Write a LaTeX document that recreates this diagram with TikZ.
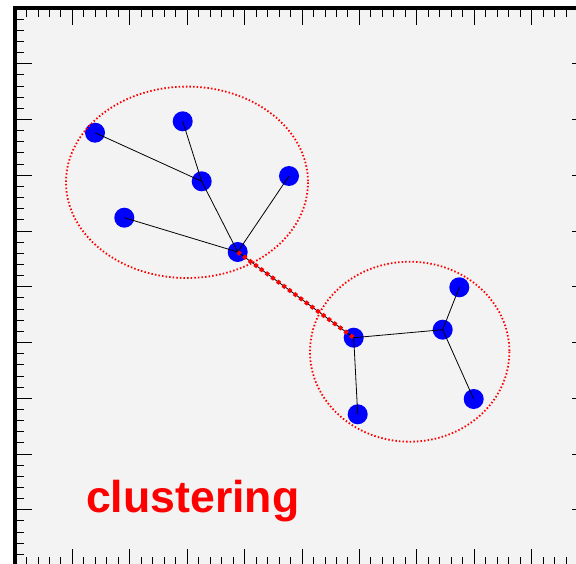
\documentclass[tikz,border=0pt]{standalone}
\usepackage{fontspec}
\usepackage{tikz}
\usetikzlibrary{positioning}
\newfontfamily\labelfont{Liberation Sans}
\definecolor{padgray}{HTML}{F3F3F3}
\definecolor{rootred}{HTML}{FF0000}
\definecolor{rootblue}{HTML}{0000FF}

\begin{document}
\begin{tikzpicture}[
  x=1pt,y=-1pt,
  vtx/.style={circle,fill=rootblue,minimum size=20pt,inner sep=0pt},
  edge/.style={black,line width=0.8pt},
  clus/.style={rootred,line width=1.8pt,dash pattern=on 1.5pt off 2.1pt},
  link/.style={rootred,line width=4pt,dash pattern=on 3.6pt off 3.4pt},
  tick/.style={black,line width=0.9pt}
]
\useasboundingbox (0,0) rectangle (576,564);
\clip (0,0) rectangle (576,564);
\fill[white] (0,0) rectangle (576,564);
\fill[padgray] (15,8) rectangle (589,565.5);
% axis ticks
\foreach \i in {1,...,49}{
  \pgfmathsetmacro\tx{15+11.48*\i}
  \pgfmathsetmacro\ty{8+11.15*\i}
  \pgfmathsetmacro\tl{mod(\i,5)==0 ? 17 : 9}
  \draw[tick] (\tx,8) -- ++(0,\tl);
  \draw[tick] (\tx,565.5) -- ++(0,-\tl);
  \draw[tick] (15,\ty) -- ++(\tl,0);
  \draw[tick] (589,\ty) -- ++(-\tl,0);
}
\draw[line width=4pt] (15,8) rectangle (589,565.5);
% first cluster
\node[vtx] (a) at (95,132.7) {};
\node[vtx] (b) at (182.7,121.3) {};
\node[vtx] (c) at (201.7,181.3) {};
\node[vtx] (d) at (289,176) {};
\node[vtx] (e) at (124.3,217.7) {};
\node[vtx] (f) at (237.7,252) {};
% second cluster
\node[vtx] (g) at (353.7,337.7) {};
\node[vtx] (h) at (442.7,329.7) {};
\node[vtx] (i) at (459.3,287.3) {};
\node[vtx] (j) at (473.7,399) {};
\node[vtx] (k) at (357.7,414.3) {};
\draw[edge] (a.center) -- (c.center);
\draw[edge] (b.center) -- (c.center);
\draw[edge] (c.center) -- (f.center);
\draw[edge] (d.center) -- (f.center);
\draw[edge] (e.center) -- (f.center);
\draw[edge] (g.center) -- (h.center);
\draw[edge] (h.center) -- (i.center);
\draw[edge] (h.center) -- (j.center);
\draw[edge] (g.center) -- (k.center);
\draw[edge] (f.center) -- (g.center);
\draw[link] (f.center) -- (g.center);
\draw[clus] (187,182.3) ellipse [x radius=121, y radius=95.7];
\draw[clus] (409.7,351.7) ellipse [x radius=99.7, y radius=90];
\node[anchor=base west,inner sep=0pt,text=rootred,font=\labelfont\bfseries\fontsize{44.6}{44.6}\selectfont] (lbl) at (86,512) {clustering};
\end{tikzpicture}
\end{document}
